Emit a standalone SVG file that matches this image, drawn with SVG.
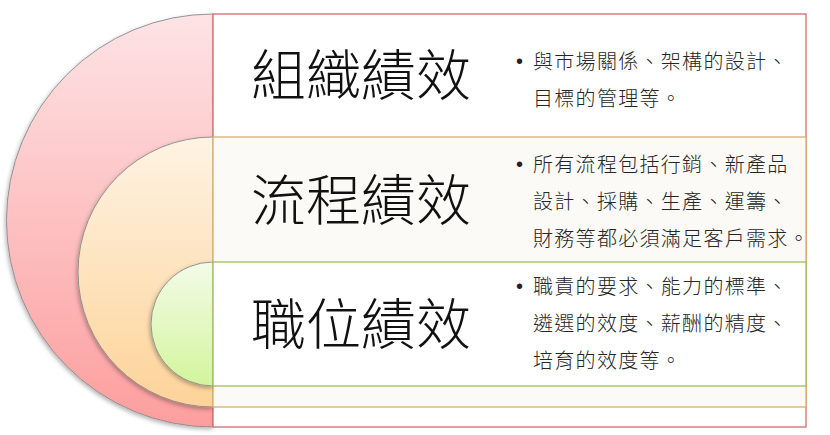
<svg xmlns="http://www.w3.org/2000/svg" width="830" height="435" viewBox="0 0 830 435">
<defs>
<linearGradient id="gRed" x1="0" y1="0" x2="0" y2="1">
<stop offset="0" stop-color="#fde3e5"/>
<stop offset="1" stop-color="#fd9e9e"/>
</linearGradient>
<linearGradient id="gOrange" x1="0" y1="0" x2="0" y2="1">
<stop offset="0" stop-color="#fef3e3"/>
<stop offset="1" stop-color="#fdd398"/>
</linearGradient>
<linearGradient id="gGreen" x1="0" y1="0" x2="0" y2="1">
<stop offset="0" stop-color="#f3fbe8"/>
<stop offset="1" stop-color="#d3f59c"/>
</linearGradient>
<filter id="shadow" x="-10%" y="-10%" width="120%" height="120%">
<feDropShadow dx="-1" dy="2" stdDeviation="2" flood-color="#000" flood-opacity="0.3"/>
</filter>
<style>
.arc{stroke:#8a8a8a;stroke-width:0.9;filter:url(#shadow)}
.title{font-family:"Noto Sans CJK TC","Noto Sans CJK SC",sans-serif;font-size:55px;font-weight:300;fill:#111}
.body{font-family:"Noto Sans CJK TC","Noto Sans CJK SC",sans-serif;font-size:20px;font-weight:300;letter-spacing:1.3px;fill:#262626}
.bullet{font-family:"Liberation Sans",sans-serif;font-size:20px;fill:#222}
</style>
</defs>
<rect width="830" height="435" fill="#ffffff"/>
<g id="node-org">
<path class="arc" d="M213,14 A206.5,206.5 0 0 0 213,427 Z" fill="url(#gRed)"/>
<rect x="213" y="14" width="593" height="413" fill="#ffffff" stroke="#d06a6a" stroke-width="1.3"/>
<text class="title" x="251" y="95">組織績效</text>
<text class="bullet" x="516" y="68">•</text>
<text class="body"><tspan x="533" y="69">與市場關係、架構的設計、</tspan><tspan x="533" y="106">目標的管理等。</tspan></text>
</g>
<g id="node-process">
<path class="arc" d="M213,137 A135,135 0 0 0 213,407 Z" fill="url(#gOrange)"/>
<rect x="213" y="137" width="593" height="270" fill="#fbfaf7" stroke="#d6b06c" stroke-width="1.3"/>
<text class="title" x="251" y="220">流程績效</text>
<text class="bullet" x="516" y="171">•</text>
<text class="body"><tspan x="533" y="172">所有流程包括行銷、新產品</tspan><tspan x="533" y="209">設計、採購、生產、運籌、</tspan><tspan x="533" y="246">財務等都必須滿足客戶需求。</tspan></text>
</g>
<g id="node-position">
<path class="arc" d="M213,262 A62,62 0 0 0 213,386 Z" fill="url(#gGreen)"/>
<rect x="213" y="262" width="593" height="124" fill="#ffffff" stroke="#9dbf5c" stroke-width="1.3"/>
<text class="title" x="251" y="344">職位績效</text>
<text class="bullet" x="516" y="293">•</text>
<text class="body"><tspan x="533" y="294">職責的要求、能力的標準、</tspan><tspan x="533" y="331">遴選的效度、薪酬的精度、</tspan><tspan x="533" y="368">培育的效度等。</tspan></text>
</g>
<g id="connectors"/>
</svg>
